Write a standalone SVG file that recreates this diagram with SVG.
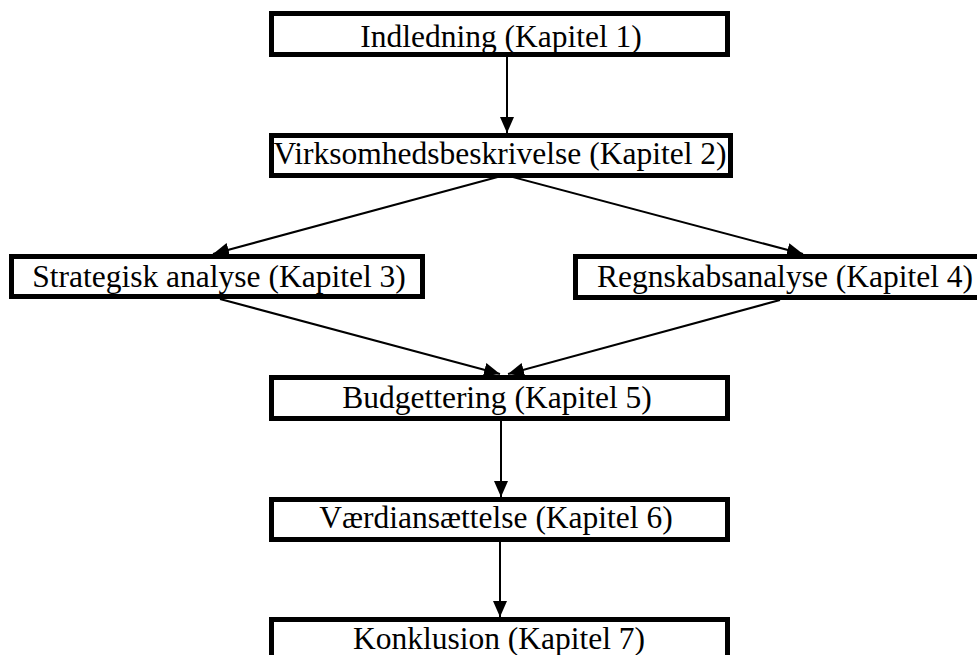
<svg xmlns="http://www.w3.org/2000/svg" width="977" height="655" viewBox="0 0 977 655">
  <style>
    .box { fill: #ffffff; stroke: #000000; stroke-width: 5; }
    .lbl { font-family: "Liberation Serif", "Times New Roman", serif; font-size: 31.5px; fill: #000000; text-anchor: middle; }
    .con { stroke: #000000; stroke-width: 2; fill: none; marker-end: url(#arrow); }
  </style>
  <defs>
    <marker id="arrow" markerUnits="userSpaceOnUse" markerWidth="16" markerHeight="14" refX="16" refY="7" orient="auto">
      <path d="M0,0 L16,7 L0,14 Z" fill="#000000"/>
    </marker>
  </defs>
  <rect x="0" y="0" width="977" height="655" fill="#ffffff"/>
  <g id="connectors">
    <line class="con" x1="507" y1="57" x2="507" y2="133"/>
    <line class="con" x1="505" y1="175" x2="213" y2="254"/>
    <line class="con" x1="505" y1="175" x2="803" y2="254"/>
    <line class="con" x1="220" y1="299" x2="500" y2="374"/>
    <line class="con" x1="780" y1="300" x2="508" y2="374"/>
    <line class="con" x1="501" y1="421" x2="501" y2="497"/>
    <line class="con" x1="500" y1="542" x2="500" y2="617"/>
  </g>
  <g id="n1">
    <rect class="box" x="271.5" y="13.5" width="456" height="41"/>
    <text class="lbl" x="501" y="47">Indledning (Kapitel 1)</text>
  </g>
  <g id="n2">
    <rect class="box" x="271.5" y="135.5" width="459" height="40"/>
    <text class="lbl" x="500" y="164">Virksomhedsbeskrivelse (Kapitel 2)</text>
  </g>
  <g id="n3">
    <rect class="box" x="11.5" y="256.5" width="411" height="40"/>
    <text class="lbl" x="219" y="287">Strategisk analyse (Kapitel 3)</text>
  </g>
  <g id="n4">
    <rect class="box" x="575.5" y="256.5" width="419" height="41"/>
    <text class="lbl" x="785" y="287">Regnskabsanalyse (Kapitel 4)</text>
  </g>
  <g id="n5">
    <rect class="box" x="271.5" y="377.5" width="456" height="41"/>
    <text class="lbl" x="497" y="408">Budgettering (Kapitel 5)</text>
  </g>
  <g id="n6">
    <rect class="box" x="271.5" y="499.5" width="456" height="40"/>
    <text class="lbl" x="496" y="528">Værdiansættelse (Kapitel 6)</text>
  </g>
  <g id="n7">
    <rect class="box" x="271.5" y="619.5" width="456" height="60"/>
    <text class="lbl" x="499" y="649">Konklusion (Kapitel 7)</text>
  </g>
</svg>
